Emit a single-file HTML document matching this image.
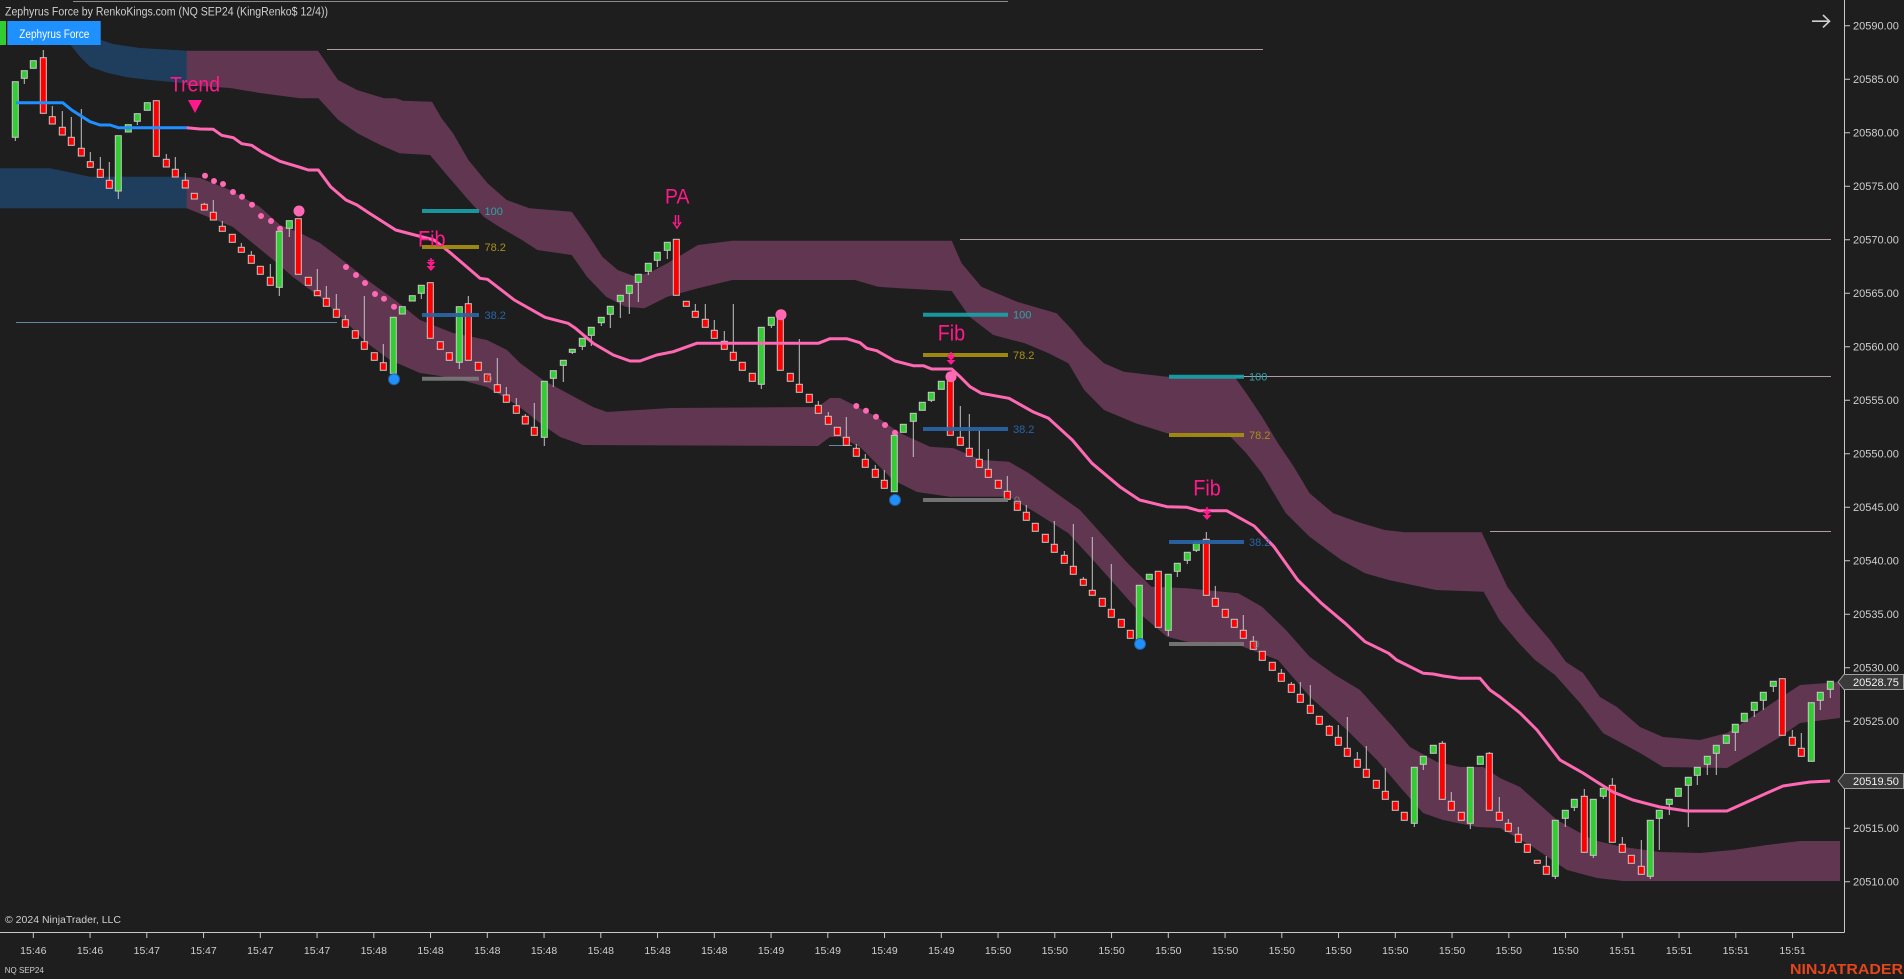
<!DOCTYPE html>
<html><head><meta charset="utf-8"><style>
html,body{margin:0;padding:0;background:#1e1e1e;overflow:hidden;}
svg{display:block;}
text{font-family:"Liberation Sans",Arial,sans-serif;}
</style></head><body>
<svg width="1904" height="979" viewBox="0 0 1904 979" xmlns="http://www.w3.org/2000/svg">
<rect width="1904" height="979" fill="#1e1e1e"/>

<!-- blue bands -->
<polygon fill="#1f3e5d" points="65,38 101,40 113,44 140,48 187,50.7 187,83.3 150,80 127,77.3 107,72.7 90,66.7 80,56.7"/>
<polygon fill="#1f3e5d" points="0,168.3 50,168.3 66.7,171.7 90,176.7 187,176.7 187,208.3 0,208.3"/>

<!-- upper pink band -->
<polygon fill="#613650" points="186.7,50.7 318,50.7 338,80 357,90 384,98.3 396,98.3 403,100.7 432,101.7 441.6,118.3 453,133.3 468.4,160 487.5,183.3 506.7,200 529.6,208.3 571.7,211.7 587,233.3 602.3,256.7 617.6,270 633,275.7 648.3,273.3 667.4,263.3 698,245 732.4,240.7 951.7,240.7 961.6,263.3 981.4,286.7 1017,301.7 1056.5,313.3 1072.3,330 1084.2,345 1104,363.3 1123.8,371.7 1151.4,375 1167,376.7 1234.5,376.7 1246.3,393.3 1262,416.7 1278,443.3 1293.8,466.7 1309.6,493.3 1333.3,513.3 1357,521.7 1384.7,530 1404.5,532.3 1481.6,532.3 1491.5,553.3 1507.3,586.7 1527,613.3 1550,640 1566,662 1583,673 1600,697 1617,707 1640,727 1663,737 1700,740 1727,733 1747,720 1777,700 1800,685 1840,682 1840,718 1800,723 1780,737 1753,753 1727,768 1663,767 1640,753 1603,733 1580,703 1555,675 1535,660 1519,643.3 1499.4,620 1483.6,591.7 1436,590 1388.7,580 1365,573.3 1341.2,560 1309.6,536.7 1285.9,513.3 1262,473.3 1246.3,453.3 1230.5,436.7 1167,433.3 1135.6,423.3 1104,410 1084.2,390 1068.4,363.3 1048.6,353.3 1024.9,343.3 993.3,335 969.5,316.7 951.7,291 900,288.3 878,286.7 855,280 732.4,280 698,288.3 667.4,296.7 644.4,308.3 625.3,306.7 606.2,296.7 587,276.7 571.7,255 537.3,250 522,240 499,226.7 483.7,216.7 468.4,200 445.4,173.3 430,155 399.5,153.3 380.4,145 357.4,133.3 338.3,120 318.4,98.3 300,98.3 260,93 230,88 186.7,85"/>

<!-- lower pink band -->
<polygon fill="#613650" points="186.7,176.7 200,178 230,190 260,207 280,225 300,233 320,243 345,262 370,282 395,300 420,320 453,333 487,340 507,350 520,363 543,380 567,393 593,407 607,412 670,408 818,407 830,398 840,398 850,403 877,417 900,433 930,446.7 953.7,448.3 981.4,460 1009,461.7 1028.9,473.3 1056.5,493.3 1080,510 1104,536.7 1127.7,563.3 1151.4,586.7 1187,588.3 1238.4,593.3 1262,606.7 1285.9,630 1309.6,656.7 1335,675 1360,690 1393,727 1410,747 1437,762 1460,767 1483,767 1500,778 1520,787 1557,820 1593,840 1623,847 1660,852 1700,853 1733,850 1767,845 1800,841 1840,841 1840,881 1623,881 1597,878 1567,870 1533,847 1500,828 1477,827 1443,820 1423,813 1400,787 1377,760 1347,730 1310,697 1278,660 1238.4,645 1187,641.7 1167,636.7 1143.5,616.7 1119.8,590 1096,563.3 1068.4,533.3 1036.8,513.3 1009,496.7 950,496.7 917,492 893,480 860,447 840,437 830,437 818,446 583,445 560,437 540,423 517,405 487,387 453,378 420,373 390,360 367,343 347,323 320,297 293,277 277,263 233,227 186.7,208.3"/>

<!-- thin horizontal lines -->
<g stroke-width="1" fill="none">
<path d="M73 1.5H1008" stroke="#8c8c8c"/>
<path d="M327 49.5H1263" stroke="#b49aa4"/>
<path d="M960 239.5H1831" stroke="#b49aa4"/>
<path d="M1235 376.5H1831" stroke="#b49aa4"/>
<path d="M1490 531.5H1831" stroke="#b49aa4"/>
<path d="M16 322.5H337" stroke="#5f8aa0"/>
<path d="M829 445.5H852" stroke="#5f8aa0"/>
</g>

<!-- pink dots -->
<g fill="#ff69b4">
<circle cx="205" cy="175.7" r="3"/><circle cx="214" cy="181" r="3"/><circle cx="223" cy="184" r="3"/><circle cx="233" cy="192" r="3"/><circle cx="242" cy="196.7" r="3"/><circle cx="252" cy="204.7" r="3"/><circle cx="261" cy="216" r="3"/><circle cx="271" cy="221" r="3"/><circle cx="280" cy="228.7" r="3"/>
<circle cx="346" cy="267" r="3"/><circle cx="356" cy="275" r="3"/><circle cx="365" cy="283" r="3"/><circle cx="375" cy="294" r="3"/><circle cx="384" cy="298.7" r="3"/><circle cx="394" cy="306.7" r="3"/>
<circle cx="856.3" cy="406" r="3"/><circle cx="866" cy="410.7" r="3"/><circle cx="876" cy="416.7" r="3"/><circle cx="885" cy="425" r="3"/><circle cx="895" cy="432.7" r="3"/>
</g>

<!-- wicks -->
<path fill="none" stroke="#c4c4c4" stroke-width="1" d="M43.3 50V58M52.3 106V117M62.3 111V128M71.3 117V138M81.3 109V149M90.3 152V162M100.3 157V170M109.3 162V181M166.3 154V160M175.3 157V170M185.3 173V181M204.3 202.7V205M213.3 200V213M222.3 221V227M241.3 243V248M251.3 251V256M270.3 264V278M317.3 269V291M326.3 286V299M336.3 294V310M345.3 315V320M364.3 296V342M383.3 344V363M468.3 296V304M497.3 358V385M506.3 387V395M516.3 398V406M525.3 414V417M534.3 403V428M695.3 304V312M705.3 304V320M714.3 320V331M724.3 331V342M733.3 304V353M799.3 339V385M818.3 401V406M828.3 412V417M846.3 417V438M856.3 444V449M865.3 454V460M875.3 465V470M884.3 470V481M960.3 406V438M969.3 414V449M979.3 430V460M988.3 449V470M1007.3 476V492M1026.3 505V513M1054.3 521V545M1064.3 551V556M1073.3 524V567M1083.3 577V580M1092.3 537V591M1111.3 564V610M1206.3 532V540M1215.3 586V599M1243.3 615V631M1253.3 636V642M1281.3 669V674M1291.3 682V685M1300.3 682V695M1310.3 685V706M1329.3 725V727M1338.3 725V738M1347.3 717V749M1357.3 752V760M1366.3 746V770M1385.3 768V792M1442.3 741V744M1451.3 792V802M1489.3 752V754M1499.3 797V813M1508.3 819V824M1518.3 827V835M1546.3 856V867M1584.3 789V797M1612.3 778V786M1622.3 837V845M1641.3 840V867M1792.3 730V738M1801.3 733V749
M15.3 137V141M24.3 78V84M118.3 191V199M137.3 121V125M279.3 287V296M289.3 228V237M421.3 293V299M459.3 362V369M544.3 437V446M553.3 378V387M563.3 365V382M572.3 352V354M582.3 346V350M591.3 335V346M601.3 322V326M610.3 314V328M620.3 301V318M629.3 293V314M638.3 282V302M648.3 271V275M657.3 260V267M667.3 250V259M761.3 384V389M771.3 325V328M913.3 421V457M931.3 400V402M1168.3 630V636M1177.3 571V577M1187.3 560V564M1196.3 550V552M1414.3 823V827M1423.3 764V770M1470.3 823V829M1555.3 876V879M1565.3 818V827M1574.3 807V811M1593.3 855V858M1603.3 796V799M1650.3 876V879M1659.3 818V850M1669.3 804V815M1688.3 785V827M1697.3 775V785M1707.3 764V775M1716.3 753V775M1735.3 732V751M1754.3 710V717M1763.3 700V710M1773.3 686V692M1820.3 700V710M1830.3 689V698"/>

<!-- green bodies -->
<g fill="#32cd32" stroke="#c8c8c8" stroke-width="1">
<rect x="12.3" y="81.7" width="6" height="55.6"/><rect x="21.3" y="70.7" width="6" height="7.6"/><rect x="30.3" y="60.7" width="6" height="7.6"/>
<rect x="115.3" y="135.7" width="6" height="55.3"/><rect x="125.3" y="124.7" width="6" height="7.3"/><rect x="134.3" y="113.7" width="6" height="7.6"/><rect x="144.3" y="102.7" width="6" height="7.6"/>
<rect x="276.3" y="231.3" width="6" height="56"/><rect x="286.3" y="220.7" width="6" height="7.6"/>
<rect x="390.3" y="317.3" width="6" height="56"/><rect x="399.3" y="306.7" width="6" height="7.3"/><rect x="409.3" y="295.7" width="6" height="5.3"/><rect x="418.3" y="285.3" width="6" height="8"/>
<rect x="456.3" y="306.7" width="6" height="55.6"/>
<rect x="541.3" y="381.3" width="6" height="56"/><rect x="550.3" y="370.7" width="6" height="7.6"/><rect x="560.3" y="360.3" width="6" height="5"/><rect x="569.3" y="349.3" width="6" height="3"/><rect x="579.3" y="338.3" width="6" height="8"/><rect x="588.3" y="327.3" width="6" height="8"/><rect x="598.3" y="317.3" width="6" height="5.4"/><rect x="607.3" y="306.3" width="6" height="8"/><rect x="617.3" y="295.3" width="6" height="6"/><rect x="626.3" y="285.3" width="6" height="8"/><rect x="635.3" y="274.3" width="6" height="8"/><rect x="645.3" y="263.3" width="6" height="8"/><rect x="654.3" y="252.3" width="6" height="8"/><rect x="664.3" y="242.3" width="6" height="8"/>
<rect x="758.3" y="327.3" width="6" height="57"/><rect x="768.3" y="317.3" width="6" height="8"/>
<rect x="891.3" y="435.3" width="6" height="56.4"/><rect x="900.3" y="424.3" width="6" height="8"/><rect x="910.3" y="413.3" width="6" height="8"/><rect x="919.3" y="402.3" width="6" height="8"/><rect x="928.3" y="392.3" width="6" height="8"/><rect x="938.3" y="381.3" width="6" height="8"/>
<rect x="1136.3" y="585.3" width="6" height="55.4"/><rect x="1146.3" y="574.3" width="6" height="5"/>
<rect x="1165.3" y="574.3" width="6" height="56"/><rect x="1174.3" y="563.3" width="6" height="8"/><rect x="1184.3" y="552.3" width="6" height="8"/><rect x="1193.3" y="542.3" width="6" height="8"/>
<rect x="1411.3" y="767.3" width="6" height="56"/><rect x="1420.3" y="756.3" width="6" height="8"/><rect x="1430.3" y="745.3" width="6" height="8"/>
<rect x="1467.3" y="767.3" width="6" height="56"/><rect x="1477.3" y="756.3" width="6" height="8"/>
<rect x="1552.3" y="820.3" width="6" height="56"/><rect x="1562.3" y="810.3" width="6" height="8"/><rect x="1571.3" y="799.3" width="6" height="8"/>
<rect x="1590.3" y="799.3" width="6" height="56"/><rect x="1600.3" y="788.3" width="6" height="8"/>
<rect x="1647.3" y="820.3" width="6" height="56"/><rect x="1656.3" y="810.3" width="6" height="8"/><rect x="1666.3" y="799.3" width="6" height="5"/><rect x="1675.3" y="788.3" width="6" height="8"/><rect x="1685.3" y="777.3" width="6" height="8"/><rect x="1694.3" y="767.3" width="6" height="8"/><rect x="1704.3" y="756.3" width="6" height="8"/><rect x="1713.3" y="745.3" width="6" height="8"/><rect x="1723.3" y="735.3" width="6" height="8"/><rect x="1732.3" y="724.3" width="6" height="8"/><rect x="1741.3" y="713.3" width="6" height="8"/><rect x="1751.3" y="702.3" width="6" height="8"/><rect x="1760.3" y="692.3" width="6" height="8"/><rect x="1770.3" y="681.3" width="6" height="5"/>
<rect x="1808.3" y="702.7" width="6" height="58.6"/><rect x="1817.3" y="692.3" width="6" height="8"/><rect x="1827.3" y="681.3" width="6" height="8"/>
</g>

<!-- red bodies -->
<g fill="#ff0000" stroke="#c8c8c8" stroke-width="1">
<rect x="40.3" y="57.7" width="6" height="55.6"/><rect x="49.3" y="116.7" width="6" height="7.3"/><rect x="59.3" y="127.3" width="6" height="7.7"/><rect x="68.3" y="137.3" width="6" height="8"/><rect x="78.3" y="148.3" width="6" height="7.7"/><rect x="87.3" y="161.7" width="6" height="5.6"/><rect x="97.3" y="169.3" width="6" height="8"/><rect x="106.3" y="180.3" width="6" height="8"/>
<rect x="153.3" y="100.7" width="6" height="55.6"/><rect x="163.3" y="159.3" width="6" height="7.7"/><rect x="172.3" y="169.3" width="6" height="7.7"/><rect x="182.3" y="180.3" width="6" height="7.7"/><rect x="191.3" y="193.3" width="6" height="5.7"/><rect x="201.3" y="204.3" width="6" height="5.7"/><rect x="210.3" y="212.3" width="6" height="7.7"/><rect x="219.3" y="226.3" width="6" height="5"/><rect x="229.3" y="234.3" width="6" height="8"/><rect x="238.3" y="247.3" width="6" height="5"/><rect x="248.3" y="255.3" width="6" height="8"/><rect x="257.3" y="266.3" width="6" height="8"/><rect x="267.3" y="277.3" width="6" height="8"/>
<rect x="295.3" y="218.7" width="6" height="55.6"/><rect x="305.3" y="277.3" width="6" height="8"/><rect x="314.3" y="290.7" width="6" height="5"/><rect x="323.3" y="298.3" width="6" height="8"/><rect x="333.3" y="309.3" width="6" height="8"/><rect x="342.3" y="319.7" width="6" height="7.6"/><rect x="352.3" y="330.7" width="6" height="7.6"/><rect x="361.3" y="341.7" width="6" height="7.6"/><rect x="371.3" y="352.7" width="6" height="7.6"/><rect x="380.3" y="362.7" width="6" height="7.6"/>
<rect x="427.3" y="282.7" width="6" height="55.6"/><rect x="437.3" y="341.7" width="6" height="7.6"/><rect x="446.3" y="352.7" width="6" height="7.6"/>
<rect x="465.3" y="303.7" width="6" height="56.6"/><rect x="475.3" y="362.3" width="6" height="8"/><rect x="484.3" y="374" width="6" height="7.7"/><rect x="494.3" y="384.7" width="6" height="7.6"/><rect x="503.3" y="395" width="6" height="7.3"/><rect x="513.3" y="405.7" width="6" height="7.6"/><rect x="522.3" y="416.3" width="6" height="7.7"/><rect x="531.3" y="427.3" width="6" height="8"/>
<rect x="673.3" y="239.3" width="6" height="56"/><rect x="683.3" y="301.3" width="6" height="5"/><rect x="692.3" y="311.3" width="6" height="6"/><rect x="702.3" y="319.3" width="6" height="8"/><rect x="711.3" y="330.3" width="6" height="8"/><rect x="721.3" y="341.3" width="6" height="8"/><rect x="730.3" y="352.3" width="6" height="8"/><rect x="739.3" y="362.3" width="6" height="8"/><rect x="749.3" y="373.3" width="6" height="8"/>
<rect x="777.3" y="315.3" width="6" height="55"/><rect x="787.3" y="373.3" width="6" height="8"/><rect x="796.3" y="384.3" width="6" height="8"/><rect x="806.3" y="394.3" width="6" height="8"/><rect x="815.3" y="405.3" width="6" height="8"/><rect x="825.3" y="416.3" width="6" height="8"/><rect x="834.3" y="427.3" width="6" height="8"/><rect x="843.3" y="437.3" width="6" height="8"/><rect x="853.3" y="448.3" width="6" height="8"/><rect x="862.3" y="459.3" width="6" height="8"/><rect x="872.3" y="469.3" width="6" height="8"/><rect x="881.3" y="480.3" width="6" height="8"/>
<rect x="947.3" y="379.3" width="6" height="56"/><rect x="957.3" y="437.3" width="6" height="8"/><rect x="966.3" y="448.3" width="6" height="8"/><rect x="976.3" y="459.3" width="6" height="8"/><rect x="985.3" y="469.3" width="6" height="8"/><rect x="995.3" y="480.3" width="6" height="8"/><rect x="1004.3" y="491.3" width="6" height="8"/><rect x="1014.3" y="501.3" width="6" height="9"/><rect x="1023.3" y="512.3" width="6" height="8"/><rect x="1032.3" y="523.3" width="6" height="8"/><rect x="1042.3" y="534.3" width="6" height="8"/><rect x="1051.3" y="544.3" width="6" height="8"/><rect x="1061.3" y="555.3" width="6" height="8"/><rect x="1070.3" y="566.3" width="6" height="8"/><rect x="1080.3" y="579.3" width="6" height="6"/><rect x="1089.3" y="590.3" width="6" height="5"/><rect x="1099.3" y="598.3" width="6" height="8"/><rect x="1108.3" y="609.3" width="6" height="8"/><rect x="1118.3" y="619.3" width="6" height="8"/><rect x="1127.3" y="630.3" width="6" height="8"/>
<rect x="1155.3" y="571.3" width="6" height="56"/>
<rect x="1203.3" y="539.3" width="6" height="56"/><rect x="1212.3" y="598.3" width="6" height="8"/><rect x="1222.3" y="609.3" width="6" height="8"/><rect x="1231.3" y="619.3" width="6" height="8"/><rect x="1240.3" y="630.3" width="6" height="8"/><rect x="1250.3" y="641.3" width="6" height="8"/><rect x="1259.3" y="651.3" width="6" height="9"/><rect x="1269.3" y="662.3" width="6" height="8"/><rect x="1278.3" y="673.3" width="6" height="8"/><rect x="1288.3" y="684.3" width="6" height="8"/><rect x="1297.3" y="694.3" width="6" height="8"/><rect x="1307.3" y="705.3" width="6" height="8"/><rect x="1316.3" y="716.3" width="6" height="8"/><rect x="1326.3" y="726.3" width="6" height="9"/><rect x="1335.3" y="737.3" width="6" height="8"/><rect x="1344.3" y="748.3" width="6" height="8"/><rect x="1354.3" y="759.3" width="6" height="8"/><rect x="1363.3" y="769.3" width="6" height="8"/><rect x="1373.3" y="780.3" width="6" height="8"/><rect x="1382.3" y="791.3" width="6" height="8"/><rect x="1392.3" y="801.3" width="6" height="9"/><rect x="1401.3" y="812.3" width="6" height="8"/>
<rect x="1439.3" y="743.3" width="6" height="56"/><rect x="1448.3" y="801.3" width="6" height="9"/><rect x="1458.3" y="812.3" width="6" height="8"/>
<rect x="1486.3" y="753.3" width="6" height="57"/><rect x="1496.3" y="812.3" width="6" height="8"/><rect x="1505.3" y="823.3" width="6" height="8"/><rect x="1515.3" y="834.3" width="6" height="8"/><rect x="1524.3" y="844.3" width="6" height="8"/><rect x="1534.3" y="860.3" width="6" height="3"/><rect x="1543.3" y="866.3" width="6" height="8"/>
<rect x="1581.3" y="796.3" width="6" height="56"/>
<rect x="1609.3" y="785.3" width="6" height="57"/><rect x="1619.3" y="844.3" width="6" height="8"/><rect x="1628.3" y="855.3" width="6" height="8"/><rect x="1638.3" y="866.3" width="6" height="8"/>
<rect x="1779.3" y="678.7" width="6" height="56.6"/><rect x="1789.3" y="737.3" width="6" height="8"/><rect x="1798.3" y="748.3" width="6" height="8"/>
</g>

<!-- trend lines -->
<polyline fill="none" stroke="#1e90ff" stroke-width="3" stroke-linejoin="round" points="16,102.7 62.7,102.7 71.7,110 90,121.7 100,125 110,125 118.3,127.7 187,127.7"/>
<polyline fill="none" stroke="#ff69b4" stroke-width="3" stroke-linejoin="round" points="186.7,127.7 200,129 213.3,129.3 221.7,135.3 233.3,137.7 241.7,143.7 251.7,145.3 261.7,152 280,161.3 300,167.3 308.3,170 318.3,170 330.6,186.7 346,200 357,205 369,213 395.7,230 414.8,235 434,240 449,251.7 464.6,265 480,278.3 487.5,279.3 514.3,300 545,317.3 568,323.3 575.5,328.3 593.3,343.3 613.3,355 630,361 640,361 656.7,355 673.3,351.7 696.7,343.3 818.3,343.3 830,338.7 846.7,338.7 860,342.7 866.7,348.3 876.7,350.7 895,361 913.3,365.7 923.3,365.7 931.7,369 951.7,369 960,376.7 970,386.7 981.4,393.3 1009,398.3 1032.8,411.7 1048.6,418.3 1072.3,440 1092,463.3 1119.8,486.7 1139.6,500 1167,506.7 1187,507.3 1199,510.7 1226.6,510.7 1254.2,526 1274,546.7 1297.7,580 1321.5,603.3 1345.2,623.3 1365,641.7 1388.7,653.3 1396.6,660 1423.3,673.3 1433.3,674 1443.3,676 1460,678.3 1480,678.3 1490,690 1500,697 1520,713 1537,730 1560,760 1583,773 1597,782 1613,792 1633,800 1660,807 1687,811 1727,811 1747,802 1767,793 1783,786 1810,782 1830,781"/>

<!-- big dots -->
<g fill="#ff69b4"><circle cx="299" cy="211" r="5.5"/><circle cx="781" cy="314.7" r="5.5"/><circle cx="951" cy="376.7" r="5.5"/></g>
<g fill="#1e90ff" stroke="#2a5f95" stroke-width="1"><circle cx="394" cy="379.3" r="5.5"/><circle cx="895" cy="500" r="5.5"/><circle cx="1140" cy="644" r="5.5"/></g>

<!-- fib levels -->
<g stroke-width="4" opacity="0.92">
<path d="M422 211H479M923 314.7H1008M1169 376.7H1244" stroke="#17a2a8"/>
<path d="M422 247H479M923 355H1008M1169 435H1244" stroke="#a8900f"/>
<path d="M422 315H479M923 429H1008M1169 542H1244" stroke="#2a65a5"/>
<path d="M422 378.7H479M923 500H1008M1169 644H1244" stroke="#7a7a7a"/>
</g>
<g font-size="11">
<text x="484.5" y="215" fill="#2ba5ab">100</text><text x="484.5" y="251" fill="#a8901a">78.2</text><text x="484.5" y="319" fill="#2a65a5">38.2</text><text x="486" y="382.7" fill="#7a7a7a">0</text>
<text x="1013" y="318.7" fill="#2ba5ab">100</text><text x="1013" y="359" fill="#a8901a">78.2</text><text x="1013" y="433" fill="#2a65a5">38.2</text><text x="1014" y="504" fill="#7a7a7a">0</text>
<text x="1249" y="380.7" fill="#2ba5ab">100</text><text x="1249" y="439" fill="#a8901a">78.2</text><text x="1249" y="546" fill="#2a65a5">38.2</text><text x="1253" y="648" fill="#7a7a7a">0</text>
</g>

<!-- signal labels -->
<g fill="#ff1a8c">
<text x="170" y="91.7" font-size="21" textLength="50" lengthAdjust="spacingAndGlyphs">Trend</text>
<polygon points="188,100 202,100 195,113"/>
<text x="665" y="203.3" font-size="21" textLength="24.5" lengthAdjust="spacingAndGlyphs">PA</text>
<text x="418" y="246.7" font-size="22" textLength="27.5" lengthAdjust="spacingAndGlyphs">Fib</text>
<text x="937.7" y="340.7" font-size="22" textLength="27.5" lengthAdjust="spacingAndGlyphs">Fib</text>
<text x="1193.3" y="495.7" font-size="22" textLength="27.5" lengthAdjust="spacingAndGlyphs">Fib</text>
<polygon points="426.5,262 435.5,262 431,266.5"/><polygon points="426.5,266 435.5,266 431,271"/>
<polygon points="946.5,356 955.5,356 951,360.5"/><polygon points="946.5,360 955.5,360 951,365"/>
<polygon points="1202.5,511 1211.5,511 1207,515.5"/><polygon points="1202.5,515 1211.5,515 1207,520"/>
</g>
<g stroke="#ff1a8c" stroke-width="1.5" fill="none">
<path d="M431 258V264M428 260.5H434"/>
<path d="M951 352V358M948 354.5H954"/>
<path d="M1207 507V513M1204 509.5H1210"/>
<path d="M675.5 215V224M678.5 215V224M673 222L677 228L681 222"/>
</g>

<!-- header -->
<path d="M73 1.5H1008" stroke="#8c8c8c" stroke-width="1"/>
<text x="5" y="15.5" font-size="11.5" fill="#cfcfcf" textLength="323" lengthAdjust="spacingAndGlyphs">Zephyrus Force by RenkoKings.com (NQ SEP24 (KingRenko$ 12/4))</text>
<rect x="0" y="21" width="6" height="24" fill="#32cd32"/>
<rect x="7.3" y="21" width="93.4" height="24" fill="#1e90ff"/>
<text x="19.3" y="38" font-size="11.5" fill="#ffffff" textLength="70" lengthAdjust="spacingAndGlyphs">Zephyrus Force</text>
<path d="M1812 21.2H1829M1823 15L1829.5 21.2L1823 27.4" stroke="#d0d0d0" stroke-width="1.6" fill="none"/>

<!-- axes -->
<path d="M1844.5 0V932.5M0 932.5H1844.5" stroke="#c8c8c8" stroke-width="1" fill="none"/>
<path stroke="#c8c8c8" stroke-width="1" d="M1844 25.7h6M1844 79.2h6M1844 132.7h6M1844 186.2h6M1844 239.7h6M1844 293.2h6M1844 346.7h6M1844 400.2h6M1844 453.7h6M1844 507.2h6M1844 560.7h6M1844 614.2h6M1844 667.7h6M1844 721.2h6M1844 774.7h6M1844 828.2h6M1844 881.7h6"/>
<g font-size="11" fill="#cfcfcf">
<text x="1853" y="29.7">20590.00</text><text x="1853" y="83.2">20585.00</text><text x="1853" y="136.7">20580.00</text><text x="1853" y="190.2">20575.00</text><text x="1853" y="243.7">20570.00</text><text x="1853" y="297.2">20565.00</text><text x="1853" y="350.7">20560.00</text><text x="1853" y="404.2">20555.00</text><text x="1853" y="457.7">20550.00</text><text x="1853" y="511.2">20545.00</text><text x="1853" y="564.7">20540.00</text><text x="1853" y="618.2">20535.00</text><text x="1853" y="671.7">20530.00</text><text x="1853" y="725.2">20525.00</text><text x="1853" y="832.2">20515.00</text><text x="1853" y="885.7">20510.00</text>
</g>
<path d="M1838 682L1844 674.5H1903.5V689.5H1844Z" fill="#3a3a3a" stroke="#a0a0a0" stroke-width="1"/>
<text x="1853" y="686" font-size="11" fill="#f2f2f2">20528.75</text>
<path d="M1838 781L1844 773.5H1903.5V788.5H1844Z" fill="#3a3a3a" stroke="#a0a0a0" stroke-width="1"/>
<text x="1853" y="785" font-size="11" fill="#f2f2f2">20519.50</text>

<path stroke="#c8c8c8" stroke-width="1" d="M33.3 932v6M90.05 932v6M146.8 932v6M203.55 932v6M260.3 932v6M317.05 932v6M373.8 932v6M430.55 932v6M487.3 932v6M544.05 932v6M600.8 932v6M657.55 932v6M714.3 932v6M771.05 932v6M827.8 932v6M884.55 932v6M941.3 932v6M998.05 932v6M1054.8 932v6M1111.55 932v6M1168.3 932v6M1225.05 932v6M1281.8 932v6M1338.55 932v6M1395.3 932v6M1452.05 932v6M1508.8 932v6M1565.55 932v6M1622.3 932v6M1679.05 932v6M1735.8 932v6M1792.55 932v6"/>
<g font-size="10.5" fill="#cfcfcf" text-anchor="middle">
<text x="33.3" y="954">15:46</text><text x="90.05" y="954">15:46</text><text x="146.8" y="954">15:47</text><text x="203.55" y="954">15:47</text><text x="260.3" y="954">15:47</text><text x="317.05" y="954">15:47</text><text x="373.8" y="954">15:48</text><text x="430.55" y="954">15:48</text><text x="487.3" y="954">15:48</text><text x="544.05" y="954">15:48</text><text x="600.8" y="954">15:48</text><text x="657.55" y="954">15:48</text><text x="714.3" y="954">15:48</text><text x="771.05" y="954">15:49</text><text x="827.8" y="954">15:49</text><text x="884.55" y="954">15:49</text><text x="941.3" y="954">15:49</text><text x="998.05" y="954">15:50</text><text x="1054.8" y="954">15:50</text><text x="1111.55" y="954">15:50</text><text x="1168.3" y="954">15:50</text><text x="1225.05" y="954">15:50</text><text x="1281.8" y="954">15:50</text><text x="1338.55" y="954">15:50</text><text x="1395.3" y="954">15:50</text><text x="1452.05" y="954">15:50</text><text x="1508.8" y="954">15:50</text><text x="1565.55" y="954">15:50</text><text x="1622.3" y="954">15:51</text><text x="1679.05" y="954">15:51</text><text x="1735.8" y="954">15:51</text><text x="1792.55" y="954">15:51</text>
</g>

<text x="5" y="923" font-size="10.5" fill="#cfcfcf" textLength="116" lengthAdjust="spacingAndGlyphs">© 2024 NinjaTrader, LLC</text>
<text x="4.8" y="973" font-size="8.5" fill="#cfcfcf" textLength="39" lengthAdjust="spacingAndGlyphs">NQ SEP24</text>
<text x="1790" y="974" font-size="15" font-weight="bold" fill="#e4461c" textLength="113" lengthAdjust="spacingAndGlyphs">NINJATRADER</text>
</svg>
</body></html>
